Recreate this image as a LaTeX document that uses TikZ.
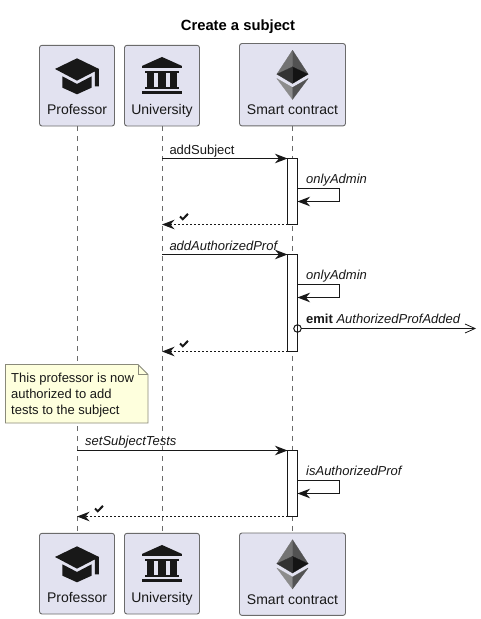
\documentclass[tikz,border=0pt]{standalone}
\usepackage{fontspec}
\setmainfont{Liberation Sans}
\usetikzlibrary{arrows.meta,calc}
\definecolor{ink}{HTML}{181818}
\definecolor{edge}{HTML}{6B6B6B}
\definecolor{boxfill}{HTML}{E2E2F0}
\definecolor{notefill}{HTML}{FEFFDD}
\definecolor{noteedge}{HTML}{8A8A7A}
\tikzset{
  actorbox/.style={draw=edge,fill=boxfill,line width=.9pt,rounded corners=2.5pt,inner sep=0pt,outer sep=0pt,anchor=north,
    font=\fontsize{14}{16}\selectfont,text=ink},
  smallactor/.style={actorbox,minimum width=75pt,text height=69pt,text depth=11.7pt},
  bigactor/.style={actorbox,minimum width=106pt,text height=71.4pt,text depth=11pt},
  lifeline/.style={draw=edge,line width=.9pt,dash pattern=on 5pt off 5pt},
  activebar/.style={draw=ink,fill=white,line width=1pt,inner sep=0pt,outer sep=0pt,minimum width=10pt,anchor=north},
  msg/.style={draw=ink,line width=1pt,-{Stealth[length=12.5pt,width=9.5pt,inset=4pt]}},
  retmsg/.style={msg,dash pattern=on 2pt off 2pt},
  lbl/.style={anchor=base west,inner sep=0pt,font=\fontsize{13}{15}\selectfont,text=ink},
  iconscale/.style={x=.3333pt,y=-.3333pt},
  facet/.style={iconscale,fill=#1,draw=#1,line width=.25pt,line join=round},
  capicon/.pic={
    \fill[ink,iconscale] (0,39)--(66,71)--(66,123)--(54,123)--(54,78)--(0,106)--(-66,71)--cycle;
    \fill[ink,iconscale] (-44,93)--(0,116)--(44,93)--(44,127)--(0,147)--(-44,127)--cycle;
  },
  bankicon/.pic={
    \fill[ink,iconscale] (0,35)--(60,62)--(60,68)--(-60,68)--(-60,62)--cycle;
    \fill[ink,iconscale] (-52,76) rectangle (52,84);
    \fill[ink,iconscale] (-46,84) rectangle (-24,124);
    \fill[ink,iconscale] (-11,84) rectangle (11,124);
    \fill[ink,iconscale] (24,84) rectangle (46,124);
    \fill[ink,iconscale] (-52,124) rectangle (52,131);
    \fill[ink,iconscale] (-60,137) rectangle (60,147);
  },
  ethicon/.pic={
    \path[facet=black!55] (0,20)--(-47,92)--(0,70)--cycle;
    \path[facet=black!68] (0,20)--(47,92)--(0,70)--cycle;
    \path[facet=black!80] (0,70)--(-47,92)--(0,120)--cycle;
    \path[facet=black!92] (0,70)--(47,92)--(0,120)--cycle;
    \path[facet=black!45] (-47,105)--(0,132)--(0,168)--cycle;
    \path[facet=black!68] (47,105)--(0,132)--(0,168)--cycle;
  },
  checkicon/.pic={
    \draw[ink,line width=2pt] (-4,-.5)--(-1.2,2.2)--(4,-3.2);
  },
}
\begin{document}
\begin{tikzpicture}[x=1pt,y=-1pt]
\useasboundingbox (0,0) rectangle (481,619);
\fill[white] (0,0) rectangle (481,619);
\node[font=\bfseries\fontsize{14.8}{16}\selectfont,text=black,anchor=base,inner sep=0pt] (title) at (238,30) {Create a subject};
% participants
\node[smallactor] (pt) at (77,45.3) {Professor};
\node[smallactor] (ut) at (162,45.3) {University};
\node[bigactor]   (st) at (292.5,43.5) {Smart contract};
\node[smallactor] (pb) at (77,533.3) {Professor};
\node[smallactor] (ub) at (162,533.3) {University};
\node[bigactor]   (sb) at (292.5,533) {Smart contract};
\pic at (pt.north) {capicon};
\pic at (ut.north) {bankicon};
\pic at (st.north) {ethicon};
\pic at (pb.north) {capicon};
\pic at (ub.north) {bankicon};
\pic at (sb.north) {ethicon};
% lifelines
\draw[lifeline] (pt.south) -- (pb.north);
\draw[lifeline] (ut.south) -- (ub.north);
\draw[lifeline] (st.south) -- (sb.north);
% activation bars
\node[activebar,minimum height=66pt] (a1) at (292.5,158.5) {};
\node[activebar,minimum height=97pt] (a2) at (292.5,254.5) {};
\node[activebar,minimum height=66pt] (a3) at (292.5,450.5) {};
% anchors on the lifelines
\coordinate (u1) at (ut.south |- a1.north);
\coordinate (u1r) at (ut.south |- a1.south);
\coordinate (u2) at (ut.south |- a2.north);
\coordinate (u2r) at (ut.south |- a2.south);
\coordinate (p3) at (pt.south |- a3.north);
\coordinate (p3r) at (pt.south |- a3.south);
\coordinate (l1a) at (297.5,188.5);
\coordinate (l1b) at (297.5,201.5);
\coordinate (l2a) at (297.5,284.5);
\coordinate (l2b) at (297.5,297.5);
\coordinate (l3a) at (297.5,480.5);
\coordinate (l3b) at (297.5,493.5);
\coordinate (ev) at (297.5,328.5);
\coordinate (evend) at (476,328.5);
% messages
\draw[msg] (u1) -- (a1.north west);
\node[lbl] (m1) at (169.3,154) {addSubject};
\draw[msg] (l1a) -- ++(42,0) -- ++(0,13) -- (l1b);
\node[lbl,font=\itshape\fontsize{13}{15}\selectfont] (m2) at (306,183.5) {onlyAdmin};
\draw[retmsg] (a1.south west) -- (u1r);
\pic at (184,217) {checkicon};
\draw[msg] (u2) -- (a2.north west);
\node[lbl,font=\itshape\fontsize{13}{15}\selectfont] (m3) at (169.3,250) {addAuthorizedProf};
\draw[msg] (l2a) -- ++(42,0) -- ++(0,13) -- (l2b);
\node[lbl,font=\itshape\fontsize{13}{15}\selectfont] (m4) at (306,279.5) {onlyAdmin};
\node[circle,draw=ink,fill=none,line width=1pt,minimum size=7.5pt,inner sep=0pt,outer sep=0pt] (evc) at (ev) {};
\draw[draw=ink,line width=1pt,-{Straight Barb[length=10pt,width=9pt,line width=.8pt]}] (evc.east) -- (evend);
\node[lbl] (m5) at (306,323.5) {\textbf{emit} \textit{AuthorizedProfAdded}};
\draw[retmsg] (a2.south west) -- (u2r);
\pic at (184,344) {checkicon};
% note
\draw[draw=noteedge,fill=notefill,line width=.9pt] (5.5,364.5) -- (138,364.5) -- (148,374.5) -- (148,423) -- (5.5,423) -- cycle;
\draw[draw=noteedge,line width=.9pt] (138,364.5) -- (138,374.5) -- (148,374.5);
\node[anchor=north west,align=left,inner sep=0pt,font=\fontsize{13}{16}\selectfont,text=ink] (note) at (11,372.8) {This professor is now\\authorized to add\\tests to the subject};
% third
\draw[msg] (p3) -- (a3.north west);
\node[lbl,font=\itshape\fontsize{13}{15}\selectfont] (m6) at (85,445.5) {setSubjectTests};
\draw[msg] (l3a) -- ++(42,0) -- ++(0,13) -- (l3b);
\node[lbl,font=\itshape\fontsize{13}{15}\selectfont] (m7) at (306,475.5) {isAuthorizedProf};
\draw[retmsg] (a3.south west) -- (p3r);
\pic at (99,509) {checkicon};
\end{tikzpicture}
\end{document}
